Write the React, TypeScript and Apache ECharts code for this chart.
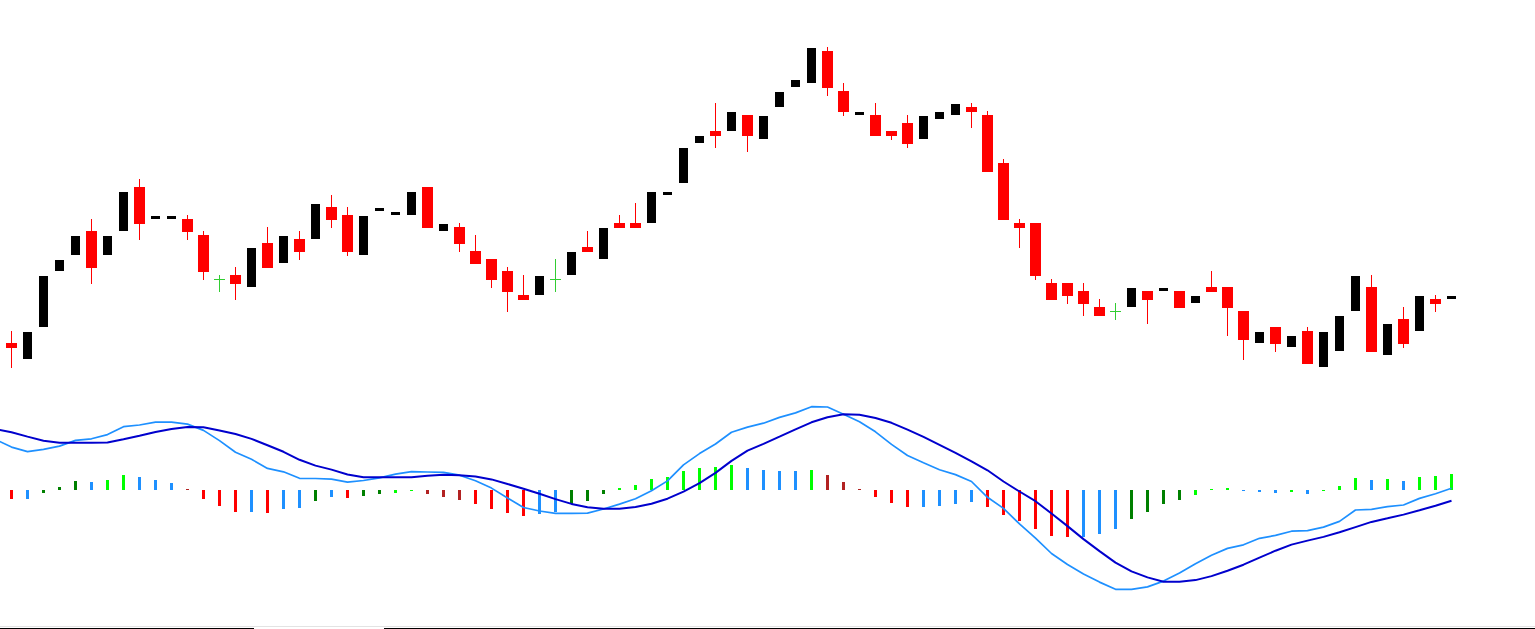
import React, { useEffect, useRef } from "react";
import * as echarts from "echarts";

// ---- Candles (price in chart points) ----
const opens = [57, 41, 73, 129, 145, 169, 145, 169, 213, 181,
  181, 181, 165, 121, 125, 113, 157, 137, 161, 161,
  193, 185, 145, 189, 185, 185, 213, 169, 173, 149,
  141, 129, 105, 105, 121, 125, 153, 141, 177, 177,
  177, 205, 217, 257, 269, 269, 285, 261, 293, 313,
  317, 349, 309, 285, 285, 269, 277, 261, 281, 285,
  293, 285, 237, 177, 177, 117, 117, 109, 93, 89,
  93, 109, 109, 109, 97, 113, 113, 89, 57, 73,
  53, 69, 33, 49, 89, 113, 45, 81, 69, 101,
  101];
const highs = [69, 68, 124, 140, 164, 181, 164, 208, 221, 184,
  184, 185, 169, 125, 133, 152, 173, 164, 169, 196,
  205, 193, 184, 192, 188, 208, 213, 176, 177, 165,
  141, 133, 125, 124, 141, 148, 169, 172, 185, 197,
  208, 208, 252, 264, 297, 288, 285, 284, 308, 320,
  352, 353, 317, 288, 297, 269, 285, 284, 288, 296,
  297, 289, 241, 181, 177, 121, 117, 117, 101, 97,
  112, 109, 112, 109, 104, 129, 113, 89, 68, 73,
  64, 73, 68, 84, 124, 125, 76, 93, 104, 105,
  104];
const lows = [32, 41, 73, 129, 145, 116, 145, 169, 160, 181,
  181, 160, 120, 108, 100, 113, 132, 137, 140, 161,
  172, 144, 145, 189, 185, 185, 172, 169, 148, 136,
  112, 88, 100, 105, 108, 125, 148, 141, 172, 172,
  177, 205, 217, 257, 252, 269, 248, 261, 293, 313,
  317, 304, 284, 285, 264, 260, 252, 261, 281, 285,
  272, 228, 180, 152, 120, 100, 96, 84, 84, 80,
  93, 76, 109, 92, 97, 108, 64, 40, 57, 48,
  53, 36, 33, 49, 89, 48, 45, 52, 69, 88,
  101];
const closes = [52, 68, 124, 140, 164, 132, 164, 208, 176, 184,
  184, 168, 128, 121, 116, 152, 132, 164, 148, 196,
  180, 148, 184, 192, 188, 208, 172, 176, 156, 136,
  120, 108, 100, 124, 121, 148, 148, 172, 172, 172,
  208, 208, 252, 264, 264, 288, 264, 284, 308, 320,
  352, 312, 288, 288, 264, 264, 256, 284, 288, 296,
  288, 228, 180, 172, 124, 100, 104, 96, 84, 89,
  112, 100, 112, 92, 104, 108, 92, 60, 68, 56,
  64, 36, 68, 84, 124, 48, 76, 56, 104, 96,
  104];

// ---- MACD panel ----
// The lines start one bar earlier (bar -1, just off the left edge of the window)
const LINE_FIRST_BAR = -1;
const macdMain = [50.5,
  42.9, 38.4, 40.7, 43.9, 49.6, 51.2, 55.4, 63.3, 65, 67.8,
  67.8, 65.9, 59.6, 49.4, 37.7, 30.7, 21.6, 18.2, 11.7, 11.5,
  10.9, 7.8, 9.5, 12.2, 15.8, 18.3, 18, 17.7, 14.8, 9.2,
  1.9, -8, -17.5, -21, -23.3, -23.3, -23.1, -19, -14.1, -8.7,
  -0.8, 9.1, 25.1, 36.4, 46, 57.8, 62.9, 66.8, 72.6, 77.1,
  83.3, 83, 75.8, 68.3, 58.2, 45.6, 34.5, 27.2, 20.2, 15.4,
  8.5, -7.3, -18.4, -33.9, -48.1, -63.5, -74.5, -84.1, -92.1, -99.3,
  -99.3, -96.9, -91.1, -83.1, -73.7, -65.2, -58.4, -54.8, -48.3, -45.4,
  -41.2, -40.7, -37.1, -31.4, -20, -19.3, -16.6, -15, -8.4, -3.7,
  1.7];
const macdSignal = [61,
  57.7, 53.4, 49.3, 47.3, 47.3, 47.3, 47.5, 50.7, 54.2, 58,
  61, 63.1, 62.7, 59.5, 56, 51.1, 44.7, 38.2, 30.2, 24.4,
  20.4, 15.5, 12.7, 12.7, 12.7, 12.8, 14.3, 15.3, 14.7, 13.6,
  10.6, 6, 1.3, -3.8, -9.1, -13.9, -17.3, -18.7, -18.7, -17.1,
  -13.7, -8.7, -1.6, 6.8, 17.1, 29.1, 39.3, 46.1, 53.3, 60.6,
  67.7, 72.8, 75.7, 75.3, 72, 67.2, 60.4, 53.1, 45.2, 37.2,
  28.7, 19.7, 8.5, -1.5, -11.2, -23.5, -36.1, -49.1, -61.1, -72.6,
  -81.4, -87.4, -91.7, -91.7, -90.1, -86.1, -80.7, -74.7, -67.7, -60.7,
  -54.6, -50.6, -46.9, -42.3, -37.1, -31.9, -28.3, -24.6, -20.3, -15.7,
  -10.7];
const histValues = [-9, -9, -3, 3, 9, 8, 10, 15, 13, 10,
  7, 1, -9, -16, -22, -22, -23, -19, -18, -11,
  -7, -8, -6, -4, -3, -1, -4, -7, -10, -14,
  -19, -23, -26, -24, -22, -14, -11, -4, 2, 5,
  11, 13, 19, 22, 23, 25, 22, 20, 19, 19,
  20, 15, 8, 1, -7, -13, -17, -17, -16, -14,
  -12, -17, -25, -31, -39, -46, -47, -47, -44, -39,
  -29, -22, -14, -10, -5, 1, 2, -1, -2, -3,
  -2, -4, -1, 4, 12, 10, 11, 9, 13, 14,
  16];
// Histogram colour state per bar: R red, B blue, G green, L lime, F firebrick
const histStates = ["R", "B", "G", "G", "G", "B", "L", "L", "B", "B",
  "B", "F", "R", "R", "R", "B", "R", "B", "B", "G",
  "B", "R", "G", "G", "L", "L", "F", "F", "F", "R",
  "R", "R", "R", "B", "B", "G", "G", "G", "L", "L",
  "L", "L", "L", "L", "L", "L", "B", "B", "B", "B",
  "L", "F", "F", "F", "R", "R", "R", "B", "B", "B",
  "B", "R", "R", "R", "R", "R", "R", "B", "B", "B",
  "G", "G", "G", "G", "L", "L", "L", "B", "B", "B",
  "L", "B", "L", "L", "L", "B", "L", "B", "L", "L",
  "L"];

const HIST_COLORS: Record<string, string> = {
  R: "#FF0000",
  B: "#1E90FF",
  G: "#008000",
  L: "#00FF00",
  F: "#B22222",
};

export default function App() {
  const ref = useRef<HTMLDivElement>(null);

  useEffect(() => {
    if (!ref.current) return;
    const chart = echarts.init(ref.current, null, { renderer: "svg" });

    const candleData = opens.map((o, i) => [i, o, highs[i], lows[i], closes[i]]);
    const histData = histValues.map((v, i) => [i, v]);
    const mainData = macdMain.map((v, i) => [i + LINE_FIRST_BAR, v]);
    const signalData = macdSignal.map((v, i) => [i + LINE_FIRST_BAR, v]);

    const xMin = -0.71875;
    const xMax = 95.21875;

    const option: any = {
      animation: false,
      backgroundColor: "#FFFFFF",
      grid: [
        { left: 0, width: 1535, top: 0, height: 400 },
        { left: 0, width: 1535, top: 390, height: 220 },
      ],
      xAxis: [
        { type: "value", gridIndex: 0, min: xMin, max: xMax, show: false },
        { type: "value", gridIndex: 1, min: xMin, max: xMax, show: false },
      ],
      yAxis: [
        { type: "value", gridIndex: 0, min: 0, max: 400, show: false },
        { type: "value", gridIndex: 1, min: -120, max: 100, show: false },
      ],
      series: [
        {
          type: "custom",
          name: "Price",
          xAxisIndex: 0,
          yAxisIndex: 0,
          data: candleData,
          encode: { x: 0, y: [1, 2, 3, 4] },
          renderItem: (params: any, api: any) => {
            const i = api.value(0);
            const o = api.value(1);
            const h = api.value(2);
            const l = api.value(3);
            const c = api.value(4);
            const pO = api.coord([i, o]);
            const pC = api.coord([i, c]);
            const pH = api.coord([i, h]);
            const pL = api.coord([i, l]);
            const cx = pO[0];
            if (o === c) {
              return {
                type: "group",
                children: [
                  {
                    type: "line",
                    shape: { x1: cx, y1: pH[1], x2: cx, y2: pL[1] },
                    style: { stroke: "#32CD32", lineWidth: 1 },
                  },
                  {
                    type: "line",
                    shape: { x1: cx - 5.5, y1: pO[1] + 0.5, x2: cx + 5.5, y2: pO[1] + 0.5 },
                    style: { stroke: "#32CD32", lineWidth: 1 },
                  },
                ],
              };
            }
            if (o > c) {
              return {
                type: "group",
                children: [
                  {
                    type: "line",
                    shape: { x1: cx, y1: pH[1], x2: cx, y2: pL[1] },
                    style: { stroke: "#FF0000", lineWidth: 1 },
                  },
                  {
                    type: "rect",
                    shape: { x: cx - 5.5, y: pO[1], width: 11, height: pC[1] - pO[1] },
                    style: { fill: "#FF0000" },
                  },
                ],
              };
            }
            return {
              type: "rect",
              shape: { x: cx - 4.5, y: pC[1], width: 9, height: pO[1] - pC[1] },
              style: { fill: "#000000" },
            };
          },
        },
        {
          type: "custom",
          name: "Histogram",
          xAxisIndex: 1,
          yAxisIndex: 1,
          z: 1,
          data: histData,
          encode: { x: 0, y: 1 },
          renderItem: (params: any, api: any) => {
            const i = api.value(0);
            const v = api.value(1);
            const p0 = api.coord([i, 0]);
            const p1 = api.coord([i, v]);
            const top = Math.min(p0[1], p1[1]);
            const hgt = Math.abs(p1[1] - p0[1]);
            return {
              type: "rect",
              shape: { x: p0[0] - 1.5, y: top, width: 3, height: hgt },
              style: { fill: HIST_COLORS[histStates[params.dataIndex]] },
            };
          },
        },
        {
          type: "line",
          name: "MACD",
          xAxisIndex: 1,
          yAxisIndex: 1,
          z: 2,
          clip: true,
          data: mainData,
          showSymbol: false,
          symbol: "none",
          lineStyle: { color: "#1E90FF", width: 1.7 },
        },
        {
          type: "line",
          name: "Signal",
          xAxisIndex: 1,
          yAxisIndex: 1,
          z: 3,
          clip: true,
          data: signalData,
          showSymbol: false,
          symbol: "none",
          lineStyle: { color: "#0000CD", width: 2 },
        },
      ],
      graphic: [
        {
          type: "line",
          shape: { x1: 0, y1: 626.5, x2: 1535, y2: 626.5 },
          style: { stroke: "#E3E3E3", lineWidth: 1 },
        },
        {
          type: "line",
          shape: { x1: 0, y1: 628.5, x2: 254, y2: 628.5 },
          style: { stroke: "#000000", lineWidth: 1 },
        },
        {
          type: "line",
          shape: { x1: 384, y1: 628.5, x2: 1535, y2: 628.5 },
          style: { stroke: "#000000", lineWidth: 1 },
        },
      ],
    };

    chart.setOption(option);
    return () => {
      chart.dispose();
    };
  }, []);

  return (
    <div
      ref={ref}
      style={{ position: "absolute", left: 0, top: 0, width: 1535, height: 629, background: "#FFFFFF" }}
    />
  );
}
